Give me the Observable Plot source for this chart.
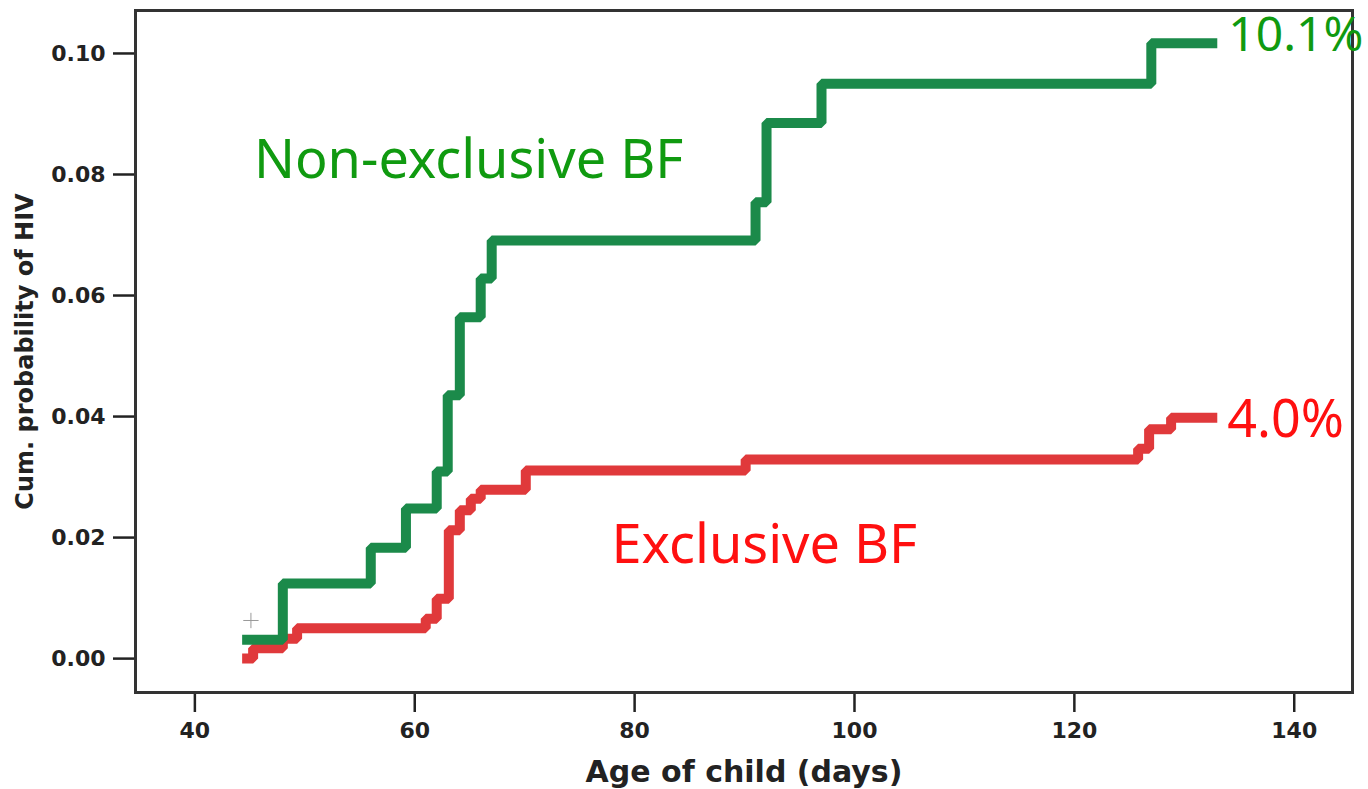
<!DOCTYPE html>
<html>
<head>
<meta charset="utf-8">
<script src="https://cdn.jsdelivr.net/npm/d3@7"></script>
<script src="https://cdn.jsdelivr.net/npm/@observablehq/plot@0.6"></script>
<style>
  html, body { margin: 0; padding: 0; background: #fff; }
  #chart svg { display: block; }
</style>
</head>
<body>
<div id="chart"></div>
<script>
// Kaplan–Meier step data: [age in days, cumulative probability]
const nonExclusiveDays = [44.3, 48, 56, 59.2, 62, 63, 64.1, 66, 67, 91, 92, 97, 127, 133];
const nonExclusiveProb = [0.0031, 0.0124, 0.0183, 0.0248, 0.0309, 0.0435, 0.0564, 0.0628, 0.0691, 0.0754, 0.0885, 0.0950, 0.1017, 0.1017];
const exclusiveDays = [44.3, 45.3, 48, 49.3, 61, 62, 63.1, 64.1, 65.1, 66, 70.1, 90.1, 125.8, 126.8, 128.8, 133];
const exclusiveProb = [0, 0.0017, 0.0033, 0.0050, 0.0066, 0.0099, 0.0212, 0.0245, 0.0264, 0.0279, 0.0311, 0.0329, 0.0347, 0.0379, 0.0398, 0.0398];
const censorDays = [45.1];
const censorProb = [0.0063];
const xTicks = [40, 60, 80, 100, 120, 140];
const yTicks = [0, 0.02, 0.04, 0.06, 0.08, 0.10];
const seriesNames = ["Non-exclusive BF", "Exclusive BF"];
const endLabels = ["10.1%", "4.0%"];

const green = nonExclusiveDays.map((d, i) => ({day: d, p: nonExclusiveProb[i]}));
const red = exclusiveDays.map((d, i) => ({day: d, p: exclusiveProb[i]}));
const censor = censorDays.map((d, i) => ({day: d, p: censorProb[i]}));

const lineGreen = "#1b8a4a", lineRed = "#e0393b";
const textGreen = "#109a10", textRed = "#ff1010";
const annFont = "'Comic Sans MS', 'Noto Sans', sans-serif";
const axisFont = "'DejaVu Sans', 'Liberation Sans', sans-serif";

const plot = Plot.plot({
  width: 1368,
  height: 789,
  marginLeft: 135,
  marginRight: 16,
  marginTop: 10,
  marginBottom: 97,
  style: {fontFamily: axisFont, background: "#fff", color: "#222"},
  x: {domain: [34.6, 145.3]},
  y: {domain: [-0.0056, 0.1071]},
  marks: [
    Plot.axisX({ticks: xTicks, tickSize: 20, tickPadding: 10, fontSize: 22, fontWeight: "bold", fontFamily: axisFont, label: null, strokeWidth: 2.5, stroke: "#222"}),
    Plot.axisY({ticks: yTicks, tickFormat: d3.format(".2f"), tickSize: 22, tickPadding: 8, fontSize: 22, fontWeight: "bold", fontFamily: axisFont, label: null, strokeWidth: 2.5, stroke: "#222"}),
    Plot.frame({stroke: "#333", strokeWidth: 3}),
    Plot.dot(censor, {x: "day", y: "p", symbol: "plus", r: 5, stroke: "#999", strokeWidth: 1}),
    Plot.line(red, {x: "day", y: "p", curve: "step-after", stroke: lineRed, strokeWidth: 10, strokeLinejoin: "miter", strokeLinecap: "butt"}),
    Plot.line(green, {x: "day", y: "p", curve: "step-after", stroke: lineGreen, strokeWidth: 10, strokeLinejoin: "miter", strokeLinecap: "butt"}),
    Plot.text([seriesNames[0]], {x: 64.9, y: 0.0823, text: d => d, fill: textGreen, fontSize: 54, fontFamily: annFont}),
    Plot.text([seriesNames[1]], {x: 91.8, y: 0.0187, text: d => d, fill: textRed, fontSize: 54, fontFamily: annFont}),
    Plot.text([green[green.length - 1]], {x: "day", y: "p", text: () => endLabels[0], dx: 11, dy: -8, textAnchor: "start", fill: textGreen, fontSize: 48, fontFamily: annFont}),
    Plot.text([red[red.length - 1]], {x: "day", y: "p", text: () => endLabels[1], dx: 10, dy: 3, textAnchor: "start", fill: textRed, fontSize: 52, fontFamily: annFont}),
    Plot.text(["Cum. probability of HIV"], {frameAnchor: "left", dx: -110, rotate: -90, textAnchor: "middle", lineAnchor: "middle", text: d => d, fontSize: 24, fontWeight: "bold", fontFamily: axisFont, fill: "#222"}),
    Plot.text(["Age of child (days)"], {frameAnchor: "bottom", dy: 80, textAnchor: "middle", lineAnchor: "middle", text: d => d, fontSize: 30, fontWeight: "bold", fontFamily: axisFont, fill: "#222"})
  ]
});
document.getElementById("chart").appendChild(plot);
</script>
</body>
</html>
